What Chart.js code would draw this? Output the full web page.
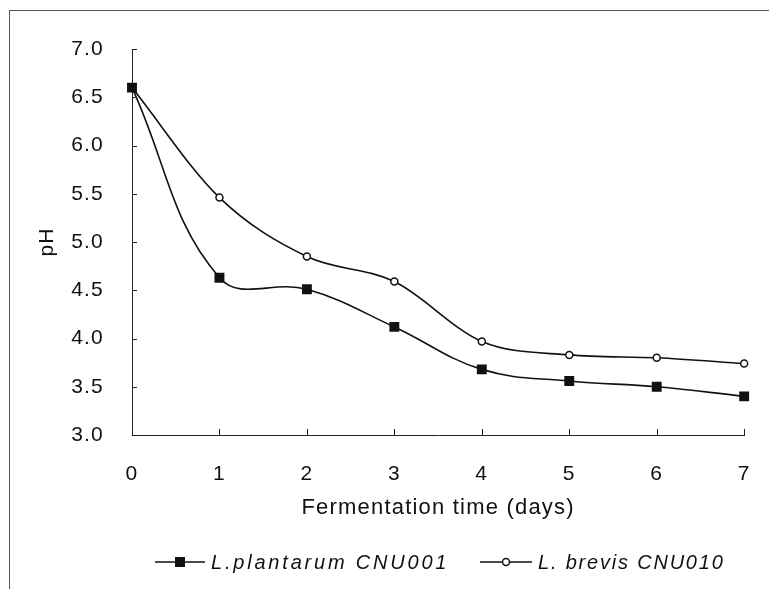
<!DOCTYPE html>
<html>
<head>
<meta charset="utf-8">
<script src="https://cdn.jsdelivr.net/npm/chart.js@4/dist/chart.umd.min.js"></script>
<style>
  html, body { margin: 0; padding: 0; background: #fff; }
  #wrap { position: relative; width: 769px; height: 589px; }
  #frame { position: absolute; left: 9px; top: 10px; width: 760px; height: 579px;
           border-left: 1px solid #555; border-top: 1px solid #555; box-sizing: border-box; }
  #legend { position: absolute; left: 0; top: 549px; width: 769px; height: 26px;
            font-family: "Liberation Sans", Arial, sans-serif; font-style: italic;
            font-size: 20px; color: #111; }
  .item { position: absolute; top: 0; height: 26px; line-height: 26px; white-space: nowrap; }
  .item svg { vertical-align: middle; margin-right: 6px; margin-top: -3px; }
</style>
</head>
<body>
<div id="wrap">
  <canvas id="ph_chart" width="769" height="589"></canvas>
  <div id="frame"></div>
  <div id="legend">
    <div class="item" style="left:155px; letter-spacing:2.8px">
      <svg width="50" height="12"><line x1="0" y1="6" x2="50" y2="6" stroke="#111" stroke-width="1.6"/><rect x="20" y="1" width="10" height="10" fill="#111"/></svg>L.plantarum CNU001
    </div>
    <div class="item" style="left:480px; letter-spacing:1.8px">
      <svg width="52" height="12"><line x1="0" y1="6" x2="52" y2="6" stroke="#111" stroke-width="1.6"/><circle cx="26" cy="6" r="3.5" fill="#fff" stroke="#111" stroke-width="1.5"/></svg>L. brevis CNU010
    </div>
  </div>
</div>
<script>
const days = ["0", "1", "2", "3", "4", "5", "6", "7"];
const plantarum = [6.60, 4.63, 4.51, 4.12, 3.68, 3.56, 3.50, 3.40];
const brevis = [6.60, 5.46, 4.85, 4.59, 3.97, 3.83, 3.80, 3.74];

const FONT = '"Liberation Sans", Arial, sans-serif';

// small tick marks pointing into the plot, like the original figure
const inwardTicks = {
  id: "inwardTicks",
  beforeDraw(chart) {
    chart.ctx.letterSpacing = "1.2px";
  },
  afterDraw(chart) {
    const { ctx, scales: { x, y } } = chart;
    ctx.letterSpacing = "0px";
    ctx.save();
    ctx.strokeStyle = "#222";
    ctx.lineWidth = 1;
    ctx.beginPath();
    y.ticks.forEach((t) => {
      const py = Math.round(y.getPixelForValue(t.value)) + 0.5;
      ctx.moveTo(x.left, py);
      ctx.lineTo(x.left + 5, py);
    });
    days.forEach((d, i) => {
      const px = Math.round(x.getPixelForValue(i)) + 0.5;
      ctx.moveTo(px, y.bottom);
      ctx.lineTo(px, y.bottom - 6);
    });
    ctx.stroke();
    ctx.restore();
  },
};

const canvas = document.getElementById("ph_chart");

const chart = new Chart(canvas, {
  type: "line",
  data: {
    labels: days,
    datasets: [
      {
        label: "L.plantarum CNU001",
        data: plantarum,
        borderColor: "#111",
        backgroundColor: "#111",
        borderWidth: 1.6,
        tension: 0.4,
        pointStyle: "rect",
        pointRadius: 7,
        pointBorderWidth: 0,
      },
      {
        label: "L. brevis CNU010",
        data: brevis,
        borderColor: "#111",
        backgroundColor: "#fff",
        borderWidth: 1.6,
        cubicInterpolationMode: "monotone",
        pointStyle: "circle",
        pointRadius: 3.5,
        pointBorderWidth: 1.5,
      },
    ],
  },
  options: {
    responsive: false,
    animation: false,
    layout: { padding: { left: 0, right: 12, top: 49, bottom: 0 } },
    plugins: {
      legend: { display: false },
      tooltip: { enabled: false },
    },
    scales: {
      x: {
        grid: { display: false },
        border: { display: true, color: "#222", width: 1 },
        ticks: { color: "#111", padding: 19, font: { family: FONT, size: 21 } },
        title: {
          display: true,
          text: "Fermentation time (days)",
          color: "#111",
          font: { family: FONT, size: 22 },
          padding: { top: 0, bottom: 68 },
        },
        afterFit: (s) => { s.height = 154; },
      },
      y: {
        min: 3,
        max: 7,
        grid: { display: false },
        border: { display: true, color: "#222", width: 1 },
        ticks: {
          stepSize: 0.5,
          color: "#111",
          padding: 20,
          font: { family: FONT, size: 21 },
          callback: (v) => v.toFixed(1),
        },
        title: {
          display: true,
          text: "pH",
          color: "#111",
          font: { family: FONT, size: 21 },
          padding: { top: 35, bottom: 0 },
        },
        afterFit: (s) => { s.width = 132; },
      },
    },
  },
  plugins: [inwardTicks],
});
</script>
</body>
</html>
